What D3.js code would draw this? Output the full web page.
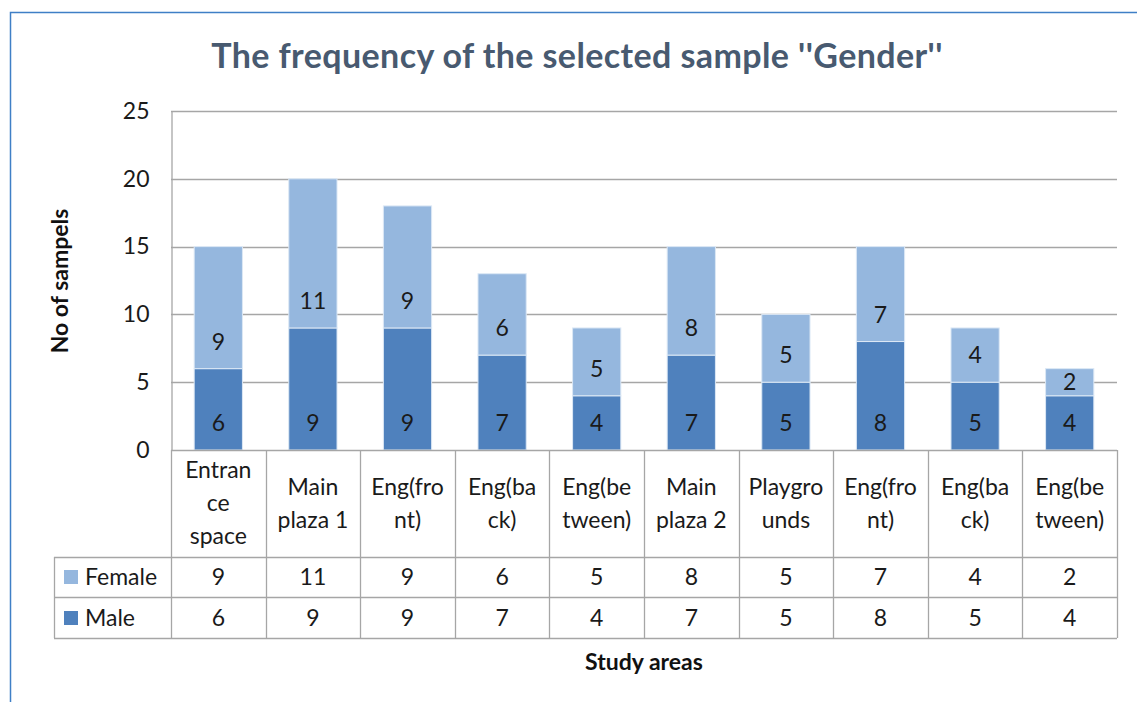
<!DOCTYPE html>
<html>
<head>
<meta charset="utf-8">
<script src="https://cdn.jsdelivr.net/npm/d3@7"></script>
<style>
  body { margin: 0; background: #fff; }
  svg text { font-family: Lato, "Open Sans", sans-serif; }
</style>
</head>
<body>
<div id="chart"></div>
<script>
// data
var categories = ["Entrance space", "Main plaza 1", "Eng(front)", "Eng(back)", "Eng(between)",
                  "Main plaza 2", "Playgrounds", "Eng(front)", "Eng(back)", "Eng(between)"];
var categoryLines = [["Entran", "ce", "space"], ["Main", "plaza 1"], ["Eng(fro", "nt)"], ["Eng(ba", "ck)"],
                     ["Eng(be", "tween)"], ["Main", "plaza 2"], ["Playgro", "unds"], ["Eng(fro", "nt)"],
                     ["Eng(ba", "ck)"], ["Eng(be", "tween)"]];
var male = [6, 9, 9, 7, 4, 7, 5, 8, 5, 4];
var female = [9, 11, 9, 6, 5, 8, 5, 7, 4, 2];
var yTicks = [0, 5, 10, 15, 20, 25];
var seriesNames = ["Male", "Female"];
var seriesColors = ["#4f81bd", "#95b7de"];

var width = 1137, height = 702;
var plotLeft = 171, plotRight = 1117, plotTop = 111, plotBottom = 450;
var gridColor = "#a6a6a6";
var textColor = "#1a1a1a";

var svg = d3.select("#chart").append("svg")
    .attr("width", width).attr("height", height);

// ramen runt figuren
svg.append("path")
    .attr("d", "M10.5," + height + "V12.5H" + width)
    .attr("fill", "none").attr("stroke", "#3f7fc6").attr("stroke-width", 1.5);

var x = d3.scaleBand().domain(d3.range(categories.length)).range([plotLeft, plotRight]).paddingInner(0.49).paddingOuter(0.245);
var cell = d3.scaleBand().domain(d3.range(categories.length)).range([plotLeft, plotRight]);
var y = d3.scaleLinear().domain([0, 25]).range([plotBottom, plotTop]);

// title
svg.append("text").attr("x", 577).attr("y", 68).attr("text-anchor", "middle")
    .style("font-size", "34px").style("font-weight", "bold").style("fill", "#485a70")
    .style("letter-spacing", "0.4px")
    .text("The frequency of the selected sample ''Gender''");

// gridlines
svg.append("g").selectAll("line").data(yTicks.slice(1)).enter().append("line")
    .attr("x1", plotLeft).attr("x2", plotRight)
    .attr("y1", function (d) { return Math.round(y(d)) + 0.5; })
    .attr("y2", function (d) { return Math.round(y(d)) + 0.5; })
    .attr("stroke", gridColor).attr("stroke-width", 1.3);

// y-axeln
var yAxis = svg.append("g").attr("transform", "translate(" + (plotLeft + 0.5) + ",0)")
    .call(d3.axisLeft(y).tickValues(yTicks).tickSize(0).tickPadding(22));
yAxis.select(".domain").attr("stroke", gridColor).attr("stroke-width", 1.3);
yAxis.selectAll("text").style("font-size", "23px").style("fill", textColor)
    .style("font-family", "Lato, 'Open Sans', sans-serif");

svg.append("text").attr("transform", "translate(68,281) rotate(-90)").attr("text-anchor", "middle")
    .style("font-size", "23px").style("font-weight", "bold").style("fill", "#111")
    .text("No of sampels");

// stacked bars
var stackData = categories.map(function (c, i) { return { i: i, Male: male[i], Female: female[i] }; });
var series = d3.stack().keys(seriesNames)(stackData);

var groups = svg.append("g").selectAll("g").data(series).enter().append("g")
    .attr("fill", function (d, k) { return seriesColors[k]; });
groups.selectAll("rect").data(function (d) { return d; }).enter().append("rect")
    .attr("x", function (d) { return x(d.data.i); })
    .attr("y", function (d) { return y(d[1]); })
    .attr("height", function (d) { return y(d[0]) - y(d[1]); })
    .attr("width", x.bandwidth())
    .attr("stroke", "#dce8f5").attr("stroke-width", 1);
// etiketter vid segmentets bas (som "inside base" i Excel), centrerade om segmentet är lågt
groups.selectAll("text").data(function (d) { return d; }).enter().append("text")
    .attr("x", function (d) { return x(d.data.i) + x.bandwidth() / 2; })
    .attr("y", function (d) { return y(d[0]) - Math.min(27, (y(d[0]) - y(d[1])) / 2) + 8; })
    .attr("text-anchor", "middle").style("font-size", "23px").style("fill", textColor)
    .text(function (d) { return d[1] - d[0]; });

// data table
var tableLeft = 54;
var tg = svg.append("g").attr("stroke", gridColor).attr("stroke-width", 1.3);
tg.append("line").attr("x1", plotLeft).attr("x2", plotRight).attr("y1", plotBottom + 0.5).attr("y2", plotBottom + 0.5);
[557, 597, 638].forEach(function (ry) {
    tg.append("line").attr("x1", tableLeft).attr("x2", plotRight).attr("y1", ry + 0.5).attr("y2", ry + 0.5);
});
cell.domain().concat([categories.length]).forEach(function (i) {
    var xx = i < categories.length ? cell(i) : plotRight;
    tg.append("line").attr("x1", Math.round(xx) + 0.5).attr("x2", Math.round(xx) + 0.5)
        .attr("y1", plotBottom).attr("y2", 638);
});
tg.append("line").attr("x1", tableLeft + 0.5).attr("x2", tableLeft + 0.5).attr("y1", 557).attr("y2", 638);

// kategorinamn
svg.append("g").selectAll("text").data(categoryLines).enter().append("text")
    .attr("text-anchor", "middle").style("font-size", "23px").style("fill", textColor)
    .each(function (lines, i) {
        var t = d3.select(this);
        var y0 = 503 - (lines.length - 1) * 33 / 2 + 8;
        lines.forEach(function (l, k) {
            t.append("tspan").attr("x", cell(i) + cell.bandwidth() / 2).attr("y", y0 + k * 33).text(l);
        });
    });

// tabellrader
var rows = [{ name: "Female", values: female, color: seriesColors[1], cy: 577 },
            { name: "Male", values: male, color: seriesColors[0], cy: 618 }];
rows.forEach(function (r) {
    svg.append("rect").attr("x", 64).attr("y", r.cy - 7).attr("width", 14).attr("height", 14).attr("fill", r.color);
    svg.append("text").attr("x", 85).attr("y", r.cy + 8).style("font-size", "23px").style("fill", textColor).text(r.name);
    svg.append("g").selectAll("text").data(r.values).enter().append("text")
        .attr("x", function (d, i) { return cell(i) + cell.bandwidth() / 2; })
        .attr("y", r.cy + 8).attr("text-anchor", "middle")
        .style("font-size", "23px").style("fill", textColor)
        .text(function (d) { return d; });
});

svg.append("text").attr("x", 644).attr("y", 670).attr("text-anchor", "middle")
    .style("font-size", "23px").style("font-weight", "bold").style("fill", "#111")
    .text("Study areas");
</script>
</body>
</html>
